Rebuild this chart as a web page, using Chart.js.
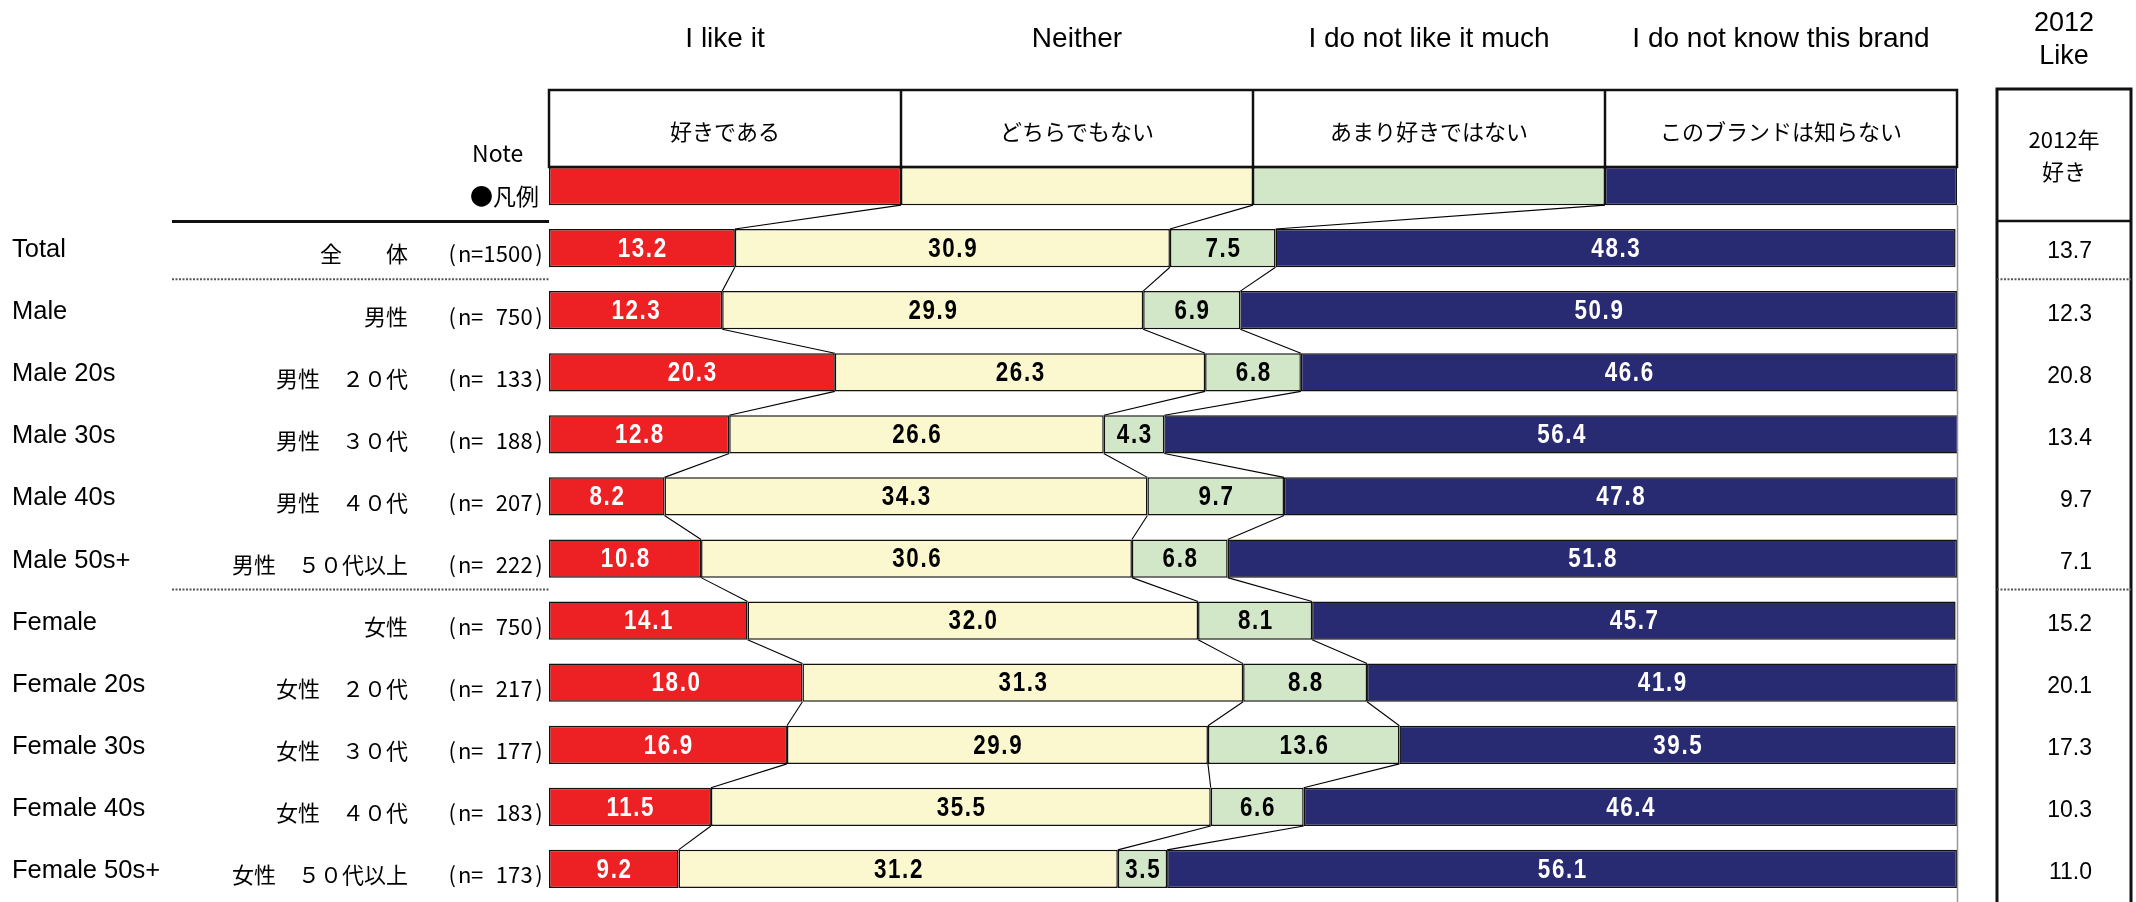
<!DOCTYPE html>
<html>
<head>
<meta charset="utf-8">
<script src="https://cdn.jsdelivr.net/npm/chart.js@4/dist/chart.umd.min.js"></script>
<style>
  body { margin: 0; background: #fff; }
  #brandChart { display: block; }
</style>
</head>
<body>
<canvas id="brandChart" width="2136" height="902"></canvas>
<script>
// row labels
var rowsEn = ['Total', 'Male', 'Male 20s', 'Male 30s', 'Male 40s', 'Male 50s+',
              'Female', 'Female 20s', 'Female 30s', 'Female 40s', 'Female 50s+'];
var rowsJa = ['全　　体', '男性', '男性　２０代', '男性　３０代', '男性　４０代', '男性　５０代以上',
              '女性', '女性　２０代', '女性　３０代', '女性　４０代', '女性　５０代以上'];
var sampleN = [1500, 750, 133, 188, 207, 222, 750, 217, 177, 183, 173];

// answer shares (%)
var likeIt   = [13.2, 12.3, 20.3, 12.8, 8.2, 10.8, 14.1, 18.0, 16.9, 11.5, 9.2];
var neither  = [30.9, 29.9, 26.3, 26.6, 34.3, 30.6, 32.0, 31.3, 29.9, 35.5, 31.2];
var notMuch  = [7.5, 6.9, 6.8, 4.3, 9.7, 6.8, 8.1, 8.8, 13.6, 6.6, 3.5];
var dontKnow = [48.3, 50.9, 46.6, 56.4, 47.8, 51.8, 45.7, 41.9, 39.5, 46.4, 56.1];

// previous survey, "like"
var like2012 = [13.7, 12.3, 20.8, 13.4, 9.7, 7.1, 15.2, 20.1, 17.3, 10.3, 11.0];

var seriesEn = ['I like it', 'Neither', 'I do not like it much', 'I do not know this brand'];
var seriesJa = ['好きである', 'どちらでもない', 'あまり好きではない', 'このブランドは知らない'];
var seriesColors = ['#ED2024', '#FBF8D0', '#D2E6C8', '#282A72'];
var labelColors = ['#fff', '#000', '#000', '#fff'];

// the key row at the top is drawn as four equal blocks
var keyShare = 25;

var EN_FONT = 'Arial, "Liberation Sans", sans-serif';
var JA_FONT = '"Noto Sans CJK JP", sans-serif';

var seriesData = [likeIt, neither, notMuch, dontKnow];

var datasets = seriesData.map(function(vals, k) {
  return {
    label: seriesEn[k],
    data: [keyShare].concat(vals),
    backgroundColor: seriesColors[k],
    borderColor: '#111',
    borderWidth: 1.5,
    borderSkipped: false,
    barPercentage: 0.615,
    categoryPercentage: 1.0
  };
});

function text(ctx, str, x, y, font, color, align) {
  ctx.font = font;
  ctx.fillStyle = color || '#000';
  ctx.textAlign = align || 'left';
  ctx.textBaseline = 'middle';
  ctx.fillText(str, x, y);
}

// fixed-pitch text, one character per cell
function cells(ctx, str, x, y, pitch, font) {
  for (var c = 0; c < str.length; c++) {
    text(ctx, str[c], x + pitch * (c + 0.5), y, font, '#000', 'center');
  }
}

// narrow bold numbers, squeezed horizontally
function narrowNum(ctx, str, x, y, color) {
  ctx.save();
  ctx.translate(x, y);
  ctx.scale(0.8, 1);
  ctx.letterSpacing = '2px';
  text(ctx, str, 1, 0, 'bold 28px ' + EN_FONT, color, 'center');
  ctx.restore();
}

function hLine(ctx, x1, x2, y, width, color, dash) {
  ctx.save();
  ctx.beginPath();
  ctx.lineWidth = width;
  ctx.strokeStyle = color;
  ctx.setLineDash(dash || []);
  ctx.moveTo(x1, y);
  ctx.lineTo(x2, y);
  ctx.stroke();
  ctx.restore();
}

var sheetPlugin = {
  id: 'sheet',
  afterDatasetsDraw: function(chart) {
    var ctx = chart.ctx;
    var xs = chart.scales.x;
    var area = chart.chartArea;
    var metas = [0, 1, 2, 3].map(function(d) { return chart.getDatasetMeta(d); });
    var keyBar = metas[0].data[0];
    var keyTop = keyBar.y - keyBar.height / 2;
    var keyBottom = keyBar.y + keyBar.height / 2;

    // connector lines between the segment edges of neighbouring rows
    ctx.save();
    ctx.strokeStyle = '#000';
    ctx.lineWidth = 1.1;
    for (var i = 0; i < metas[0].data.length - 1; i++) {
      for (var d = 0; d < 3; d++) {
        var a = metas[d].data[i], b = metas[d].data[i + 1];
        ctx.beginPath();
        ctx.moveTo(a.x, a.y + a.height / 2);
        ctx.lineTo(b.x, b.y - b.height / 2);
        ctx.stroke();
      }
    }
    ctx.restore();

    // right edge of the plot
    ctx.save();
    ctx.strokeStyle = '#999';
    ctx.lineWidth = 1.5;
    ctx.beginPath();
    ctx.moveTo(area.right + 0.5, keyBottom);
    ctx.lineTo(area.right + 0.5, 902);
    ctx.stroke();
    ctx.restore();

    // value labels inside the segments
    metas.forEach(function(meta, d) {
      meta.data.forEach(function(bar, i) {
        if (i === 0) return;
        var v = seriesData[d][i - 1];
        narrowNum(ctx, v.toFixed(1), (bar.x + bar.base) / 2, bar.y + 1, labelColors[d]);
      });
    });

    // header cells above the key row
    var headTop = 90;
    ctx.save();
    ctx.strokeStyle = '#111';
    ctx.lineWidth = 2.5;
    ctx.strokeRect(area.left, headTop, area.right - area.left, keyTop - headTop);
    for (var k = 0; k < 4; k++) {
      var l = xs.getPixelForValue(k * keyShare);
      var r = xs.getPixelForValue((k + 1) * keyShare);
      if (k > 0) {
        ctx.beginPath();
        ctx.moveTo(l, headTop);
        ctx.lineTo(l, keyTop);
        ctx.stroke();
      }
      text(ctx, seriesJa[k], (l + r) / 2, 132, '22px ' + JA_FONT, '#000', 'center');
      text(ctx, seriesEn[k], (l + r) / 2, 39, '28px ' + EN_FONT, '#000', 'center');
    }
    ctx.restore();

    text(ctx, 'Note', 472, 153, '23px ' + JA_FONT, '#000');
    text(ctx, '●凡例', 470, 196, '23px ' + JA_FONT, '#000');

    // row labels on the left
    metas[0].data.forEach(function(bar, i) {
      if (i === 0) return;
      var r = i - 1;
      var nStr = String(sampleN[r]);
      while (nStr.length < 4) nStr = ' ' + nStr;
      text(ctx, rowsEn[r], 12, bar.y + 2, '25.5px ' + EN_FONT, '#000');
      text(ctx, rowsJa[r], 408, bar.y + 6, '22px ' + JA_FONT, '#000', 'right');
      cells(ctx, '(n=' + nStr + ')', 446, bar.y + 6, 12.4, '22px ' + JA_FONT);
    });

    // 2012 column
    var colL = 1997, colR = 2131;
    var colMid = (colL + colR) / 2;
    ctx.save();
    ctx.strokeStyle = '#111';
    ctx.lineWidth = 3;
    ctx.beginPath();
    ctx.moveTo(colL, 904);
    ctx.lineTo(colL, 89);
    ctx.lineTo(colR, 89);
    ctx.lineTo(colR, 904);
    ctx.stroke();
    ctx.restore();
    hLine(ctx, colL, colR, 221, 2.5, '#111');
    text(ctx, '2012', colMid, 24, '27px ' + EN_FONT, '#000', 'center');
    text(ctx, 'Like', colMid, 57, '27px ' + EN_FONT, '#000', 'center');
    text(ctx, '2012年', colMid, 140, '22px ' + JA_FONT, '#000', 'center');
    text(ctx, '好き', colMid, 172, '22px ' + JA_FONT, '#000', 'center');
    metas[0].data.forEach(function(bar, i) {
      if (i === 0) return;
      text(ctx, like2012[i - 1].toFixed(1), 2092, bar.y + 4, '23px ' + EN_FONT, '#000', 'right');
    });

    // separators: solid under the header, dotted between groups
    hLine(ctx, 172, area.left, 221.5, 3, '#111');
    var sepTotal = (metas[0].data[1].y + metas[0].data[2].y) / 2;
    var sepSex = (metas[0].data[6].y + metas[0].data[7].y) / 2;
    [sepTotal, sepSex].forEach(function(y) {
      hLine(ctx, 172, area.left, y, 2, '#555', [2, 1.5]);
      hLine(ctx, colL, colR, y, 2, '#555', [2, 1.5]);
    });
  }
};

new Chart(document.getElementById('brandChart'), {
  type: 'bar',
  data: {
    labels: ['key'].concat(rowsEn),
    datasets: datasets
  },
  options: {
    indexAxis: 'y',
    responsive: false,
    devicePixelRatio: 1,
    animation: false,
    layout: { padding: { left: 549, right: 179, top: 155, bottom: 2 } },
    scales: {
      x: { stacked: true, min: 0, max: 100, display: false },
      y: { stacked: true, display: false }
    },
    plugins: {
      legend: { display: false },
      tooltip: { enabled: false }
    }
  },
  plugins: [sheetPlugin]
});
</script>
</body>
</html>
